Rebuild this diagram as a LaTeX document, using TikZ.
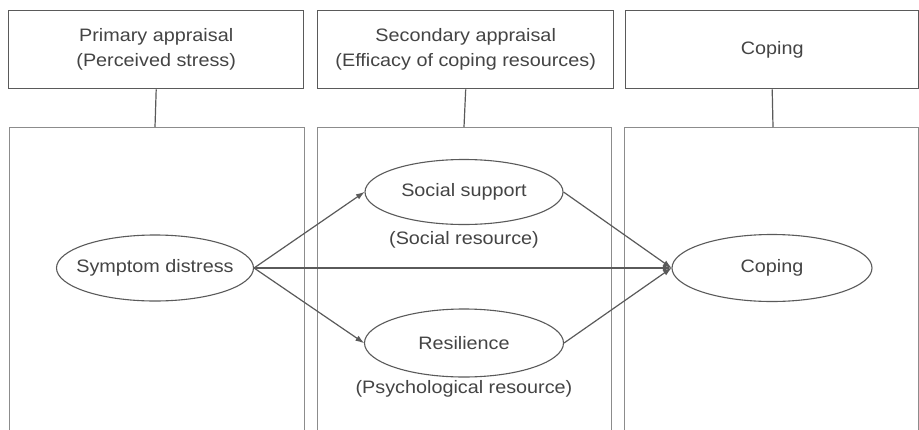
\documentclass[tikz,border=0pt]{standalone}
\usepackage{fontspec}
\setmainfont{Liberation Sans}
\usetikzlibrary{arrows.meta,shapes.geometric}
\definecolor{txt}{HTML}{444444}
\definecolor{boxc}{HTML}{5A5A5A}
\definecolor{panc}{HTML}{8C8C8C}
\newcommand{\stx}[1]{\scalebox{1.1}[1]{#1}}
\begin{document}
\begin{tikzpicture}[x=1pt,y=-1pt,
  lbl/.style={text=txt,font=\fontsize{18}{25}\selectfont,inner sep=0pt},
  topbox/.style={draw=boxc,line width=1.4pt,minimum width=295pt,minimum height=78pt,anchor=north west,text=txt,font=\fontsize{18}{25}\selectfont,align=center,inner sep=0pt},
  oval/.style={draw=boxc,line width=1.1pt,ellipse,inner sep=0pt},
  panel/.style={draw=panc,line width=0.8pt},
  link/.style={draw=boxc,line width=1.2pt},
  arr/.style={draw=boxc,line width=1.2pt,-{Latex[length=9pt,width=6pt]},shorten >=-0.5pt}
]
\useasboundingbox (0,0) rectangle (919,429);
\fill[white] (0,0) rectangle (919,429);
% top boxes
\node[topbox] (box1) at (8,10) {\stx{Primary appraisal}\\\stx{(Perceived stress)}};
\node[topbox,minimum width=296pt] (box2) at (317,10) {\stx{Secondary appraisal}\\\stx{(Efficacy of coping resources)}};
\node[topbox,minimum width=293pt] (box3) at (625,10) {\stx{Coping}};
% panels
\draw[panel] (9,430) |- (304,127) -- (304,430);
\draw[panel] (317,430) |- (611,127) -- (611,430);
\draw[panel] (624,430) |- (918.5,127) -- (918.5,430);
\coordinate (p1) at (155,127);
\coordinate (p2) at (464,127);
\coordinate (p3) at (773,127);
\draw[link] (box1.south) -- (p1);
\draw[link] (box2.south) -- (p2);
\draw[link] (box3.south) -- (p3);
% ellipses
\node[oval,minimum width=197pt,minimum height=66pt,label={[lbl]center:\stx{Symptom distress}}] (sd) at (155,268) {};
\node[oval,minimum width=198pt,minimum height=65pt,label={[lbl]center:\stx{Social support}}] (ss) at (464,192) {};
\node[oval,minimum width=199pt,minimum height=68pt,label={[lbl]center:\stx{Resilience}}] (rs) at (464,343) {};
\node[oval,minimum width=200pt,minimum height=67pt,label={[lbl]center:\stx{Coping}}] (cp) at (772,268) {};
\node[lbl] (ssl) at (464,240) {\stx{(Social resource)}};
\node[lbl] (rsl) at (464,389) {\stx{(Psychological resource)}};
% connectors
\draw[arr] (sd.east) -- (ss.west);
\draw[arr] (sd.east) -- (rs.west);
\draw[arr] (sd.east) -- (cp.west);
\draw[arr] (ss.east) -- (cp.west);
\draw[arr] (rs.east) -- (cp.west);
\end{tikzpicture}
\end{document}
